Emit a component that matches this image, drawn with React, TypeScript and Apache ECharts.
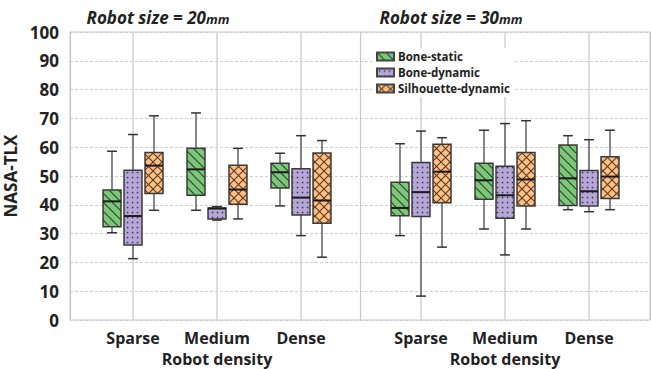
import React, { useEffect, useRef } from 'react';
import * as echarts from 'echarts';

const categories = ['Sparse', 'Medium', 'Dense'];
const seriesNames = ['Bone-static', 'Bone-dynamic', 'Silhouette-dynamic'];
const yTicks = [0, 100, 10];

// each row: [min, Q1, median, Q3, max] for Sparse, Medium, Dense
const size20BoneStatic = [
  [30.3, 32.4, 41.2, 45.1, 58.6],
  [38.1, 43.3, 52.3, 59.6, 71.9],
  [39.6, 45.8, 51.3, 54.4, 57.9],
];
const size20BoneDynamic = [
  [21.3, 26.0, 36.1, 52.0, 64.4],
  [34.7, 35.1, 38.7, 38.9, 39.4],
  [29.3, 36.5, 42.5, 52.5, 64.0],
];
const size20Silhouette = [
  [38.1, 43.9, 53.6, 58.2, 70.9],
  [35.1, 40.2, 45.3, 53.7, 59.6],
  [21.8, 33.6, 41.5, 58.0, 62.3],
];
const size30BoneStatic = [
  [29.3, 36.2, 38.9, 47.8, 61.2],
  [31.6, 41.9, 48.5, 54.4, 65.9],
  [38.3, 39.8, 49.2, 60.8, 64.0],
];
const size30BoneDynamic = [
  [8.3, 35.9, 44.4, 54.7, 65.6],
  [22.6, 35.3, 43.3, 53.4, 68.2],
  [37.6, 39.6, 44.7, 51.9, 62.6],
];
const size30Silhouette = [
  [25.3, 40.7, 51.5, 61.0, 63.3],
  [31.6, 39.6, 48.8, 58.2, 69.2],
  [38.3, 42.2, 49.8, 56.7, 65.9],
];

const FONT = '"Open Sans", "Noto Sans", sans-serif';

function makePattern(kind: string): any {
  const size = kind === 'dots' ? 5 : 9;
  const c = document.createElement('canvas');
  c.width = size;
  c.height = size;
  const ctx = c.getContext('2d')!;
  if (kind === 'diag') {
    ctx.fillStyle = '#7dc77b';
    ctx.fillRect(0, 0, size, size);
    ctx.strokeStyle = '#2a482a';
    ctx.lineWidth = 1.2;
    for (let k = -1; k <= 1; k++) {
      ctx.beginPath();
      ctx.moveTo(k * size, 0);
      ctx.lineTo(k * size + size, size);
      ctx.stroke();
    }
  } else if (kind === 'dots') {
    ctx.fillStyle = '#b5a7d7';
    ctx.fillRect(0, 0, size, size);
    ctx.fillStyle = '#3d3350';
    ctx.fillRect(1.8, 1.8, 1.5, 1.5);
  } else {
    ctx.fillStyle = '#fdbf84';
    ctx.fillRect(0, 0, size, size);
    ctx.strokeStyle = '#5a3b22';
    ctx.lineWidth = 1.1;
    for (let k = -1; k <= 1; k++) {
      ctx.beginPath();
      ctx.moveTo(k * size, 0);
      ctx.lineTo(k * size + size, size);
      ctx.stroke();
      ctx.beginPath();
      ctx.moveTo(k * size + size, 0);
      ctx.lineTo(k * size, size);
      ctx.stroke();
    }
  }
  return { image: c, repeat: 'repeat', imageWidth: size, imageHeight: size };
}

function toData(rows: number[][]) {
  return rows.map((r, i) => [i, ...r]);
}

function makeRenderItem(offsetFrac: number, pattern: any) {
  return (params: any, api: any) => {
    const cat = api.value(0);
    const band = api.coord([1, 0])[0] - api.coord([0, 0])[0];
    const cx = api.coord([cat, 0])[0] + offsetFrac * band;
    const w = band * 0.214;
    const yv = (v: number) => api.coord([cat, v])[1];
    const yMin = yv(api.value(1));
    const yQ1 = yv(api.value(2));
    const yMed = yv(api.value(3));
    const yQ3 = yv(api.value(4));
    const yMax = yv(api.value(5));
    const cap = w * 0.55;
    const whisker = { stroke: '#6a6a6a', lineWidth: 1.6 };
    const capStyle = { stroke: '#333', lineWidth: 1.5 };
    return {
      type: 'group',
      children: [
        { type: 'line', shape: { x1: cx, y1: yMax, x2: cx, y2: yQ3 }, style: whisker },
        { type: 'line', shape: { x1: cx, y1: yQ1, x2: cx, y2: yMin }, style: whisker },
        { type: 'line', shape: { x1: cx - cap / 2, y1: yMax, x2: cx + cap / 2, y2: yMax }, style: capStyle },
        { type: 'line', shape: { x1: cx - cap / 2, y1: yMin, x2: cx + cap / 2, y2: yMin }, style: capStyle },
        {
          type: 'rect',
          shape: { x: cx - w / 2, y: yQ3, width: w, height: yQ1 - yQ3 },
          style: { fill: pattern, stroke: '#3a3a3a', lineWidth: 1.5 },
        },
        { type: 'line', shape: { x1: cx - w / 2, y1: yMed, x2: cx + w / 2, y2: yMed }, style: { stroke: '#1a1a1a', lineWidth: 2 } },
      ],
    };
  };
}

export default function App() {
  const ref = useRef<HTMLDivElement>(null);
  useEffect(() => {
    if (!ref.current) return;
    const chart = echarts.init(ref.current, undefined, { renderer: 'svg' });
    const patterns = [makePattern('diag'), makePattern('dots'), makePattern('cross')];
    const offsets = [-0.25, 0, 0.25];
    const panels = [
      [size20BoneStatic, size20BoneDynamic, size20Silhouette],
      [size30BoneStatic, size30BoneDynamic, size30Silhouette],
    ];
    const series: any[] = [];
    panels.forEach((groups, p) => {
      groups.forEach((rows, s) => {
        series.push({
          type: 'custom',
          name: seriesNames[s],
          xAxisIndex: p + 1,
          yAxisIndex: p + 1,
          renderItem: makeRenderItem(offsets[s], patterns[s]),
          itemStyle: { color: patterns[s], borderColor: '#444', borderWidth: 0.6 },
          encode: { x: 0, y: [1, 2, 3, 4, 5] },
          data: toData(rows),
          z: 5,
        });
      });
    });
    series.push({ type: 'line', xAxisIndex: 0, yAxisIndex: 0, data: [], silent: true });

    const catAxis = (gridIndex: number) => ({
      type: 'category',
      gridIndex,
      data: categories,
      boundaryGap: false,
      axisLine: { show: false },
      axisTick: { show: false },
      axisLabel: { interval: 0, fontFamily: FONT, fontWeight: 'bold', fontSize: 16, color: '#222', margin: 10 },
      splitLine: { show: true, interval: 0, lineStyle: { color: '#d2d2d2', width: 1.5 } },
      name: 'Robot density',
      nameLocation: 'middle',
      nameGap: 31,
      nameTextStyle: { fontFamily: FONT, fontWeight: 'bold', fontSize: 16, color: '#222' },
    });
    const hiddenY = (gridIndex: number) => ({
      type: 'value',
      gridIndex,
      min: yTicks[0],
      max: yTicks[1],
      interval: yTicks[2],
      show: false,
      splitLine: { show: false },
    });
    const titleRich = {
      a: { fontFamily: FONT, fontWeight: 'bold', fontStyle: 'italic', fontSize: 17, fill: '#222' },
      b: { fontFamily: FONT, fontWeight: 'bold', fontStyle: 'italic', fontSize: 13, fill: '#222', padding: [3, 0, 0, 0] },
    };

    chart.setOption({
      animation: false,
      grid: [
        { left: 70, right: 2, top: 32, bottom: 49, outerBoundsMode: 'none', containLabel: false, show: true, borderColor: '#c8c8c8', borderWidth: 1, backgroundColor: '#fff' },
        { left: 133, width: 168, top: 32, bottom: 49, outerBoundsMode: 'none', containLabel: false },
        { left: 421, width: 168, top: 32, bottom: 49, outerBoundsMode: 'none', containLabel: false },
      ],
      xAxis: [
        {
          type: 'value',
          gridIndex: 0,
          min: 0,
          max: 2,
          interval: 1,
          axisLine: { show: false },
          axisTick: { show: false },
          axisLabel: { show: false },
          splitLine: { show: true, lineStyle: { color: '#c8c8c8', width: 1.2 } },
        },
        catAxis(1),
        catAxis(2),
      ],
      yAxis: [
        {
          type: 'value',
          gridIndex: 0,
          min: yTicks[0],
          max: yTicks[1],
          interval: yTicks[2],
          axisLine: { show: false },
          axisTick: { show: false },
          axisLabel: { fontFamily: FONT, fontWeight: 'bold', fontSize: 17, color: '#222', margin: 11 },
          splitLine: { show: true, lineStyle: { color: '#cfcfcf', type: [3, 2], width: 1 } },
          name: 'NASA-TLX',
          nameLocation: 'middle',
          nameRotate: 90,
          nameGap: 45,
          nameTextStyle: { fontFamily: FONT, fontWeight: 'bold', fontSize: 17, color: '#222' },
        },
        hiddenY(1),
        hiddenY(2),
      ],
      legend: {
        data: seriesNames,
        orient: 'vertical',
        left: 372,
        top: 48,
        icon: 'rect',
        itemWidth: 17,
        itemHeight: 8,
        itemGap: 3,
        padding: [2, 4],
        backgroundColor: '#fff',
        textStyle: { fontFamily: FONT, fontWeight: 'bold', fontSize: 11.5, color: '#222', lineHeight: 13, padding: [0, 0, 0, -1] },
        z: 10,
      },
      graphic: [
        {
          type: 'text',
          x: 158,
          y: 17,
          style: { text: '{a|Robot size = 20}{b|mm}', align: 'center', verticalAlign: 'middle', rich: titleRich },
        },
        {
          type: 'text',
          x: 451,
          y: 17,
          style: { text: '{a|Robot size = 30}{b|mm}', align: 'center', verticalAlign: 'middle', rich: titleRich },
        },
      ],
      series,
    });
    return () => chart.dispose();
  }, []);
  return <div ref={ref} style={{ width: 652, height: 369, position: 'absolute', left: 0, top: 0 }} />;
}
